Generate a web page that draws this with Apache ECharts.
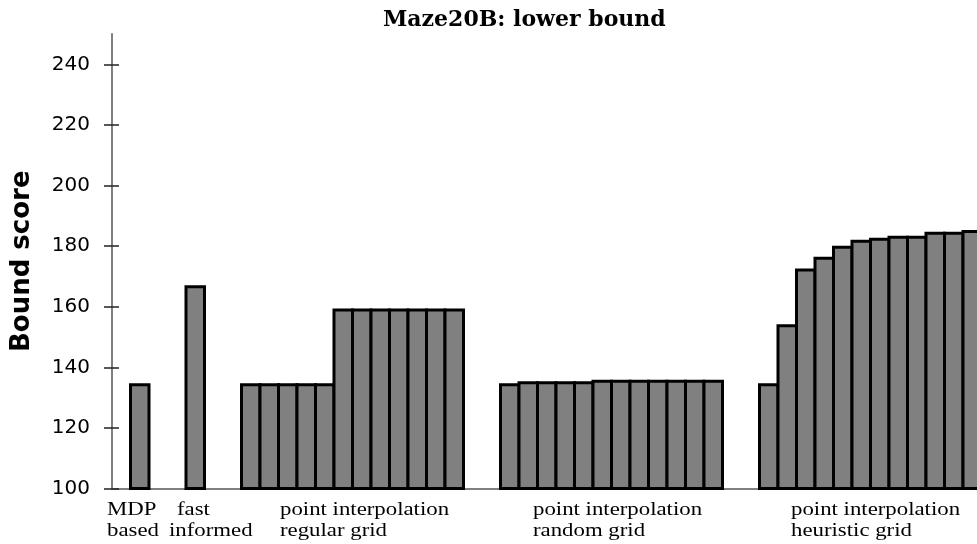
<!DOCTYPE html>
<html>
<head>
<meta charset="utf-8">
<script src="https://cdn.jsdelivr.net/npm/echarts@6/dist/echarts.min.js"></script>
<style>
html, body { margin: 0; padding: 0; background: #fff; }
#chart { width: 977px; height: 544px; }
</style>
</head>
<body>
<div id="chart"></div>
<script>
// bar heights, one array per group
const mdpBased = [134.2];
const fastInformed = [166.6];
const regularGrid = [134.2, 134.2, 134.2, 134.2, 134.2, 158.9, 158.9, 158.9, 158.9, 158.9, 158.9, 158.9];
const randomGrid = [134.2, 134.9, 134.9, 134.9, 134.9, 135.4, 135.4, 135.4, 135.4, 135.4, 135.4, 135.4];
const heuristicGrid = [134.2, 153.7, 172.1, 176.0, 179.6, 181.6, 182.3, 182.9, 182.9, 184.2, 184.2, 184.8];
// empty slots in front of each group
const groupGaps = [1, 2, 2, 2, 2];
const yTicks = [100, 120, 140, 160, 180, 200, 220, 240];
const groupLabels = [
    ['MDP', 'based'],
    ['fast', 'informed'],
    ['point interpolation', 'regular grid'],
    ['point interpolation', 'random grid'],
    ['point interpolation', 'heuristic grid']
];

const groups = [mdpBased, fastInformed, regularGrid, randomGrid, heuristicGrid];
const slots = [];
const barData = [];
groups.forEach((g, gi) => {
    for (let i = 0; i < groupGaps[gi]; i++) {
        slots.push('gap' + gi + '_' + i);
    }
    g.forEach((v, i) => {
        barData.push([slots.length, v]);
        slots.push('g' + gi + '_' + i);
    });
});

const chart = echarts.init(document.getElementById('chart'));

// x position of each label line (line1, line2)
const labelX = [[107, 107], [177, 169], [280, 280], [533, 533], [791, 791]];
const graphics = [];
groupLabels.forEach((lines, gi) => {
    lines.forEach((t, li) => {
        graphics.push({
            type: 'text',
            x: labelX[gi][li],
            y: 501 + li * 21,
            scaleX: 1.2,
            style: {
                text: t,
                font: '19px "Liberation Serif"',
                fill: '#000',
                textAlign: 'left',
                textVerticalAlign: 'top'
            }
        });
    });
});

const axisGray = '#808080';

// bars fill their whole slot and share the border with the neighbour
function renderBar(params, api) {
    const idx = api.value(0);
    const top = api.coord([idx, api.value(1)]);
    const base = api.coord([idx, 100]);
    const w = api.size([1, 0])[0];
    return {
        type: 'rect',
        shape: { x: top[0] - w / 2, y: top[1], width: w, height: base[1] - top[1] },
        style: { fill: '#808080', stroke: '#000', lineWidth: 3 }
    };
}

chart.setOption({
    animation: false,
    title: {
        text: 'Maze20B: lower bound',
        left: 378,
        top: 4,
        textStyle: {
            fontFamily: 'DejaVu Serif',
            fontWeight: 'bold',
            fontSize: 22,
            color: '#000'
        }
    },
    grid: {
        left: 112,
        right: -4.5,
        top: 34,
        bottom: 55.5,
        containLabel: false,
        outerBoundsMode: 'none'
    },
    xAxis: {
        type: 'category',
        data: slots,
        axisLine: { lineStyle: { color: axisGray, width: 2 } },
        axisTick: { show: false },
        axisLabel: { show: false }
    },
    yAxis: [
        {
            type: 'value',
            min: 100,
            max: 250,
            interval: 20,
            name: 'Bound score',
            nameLocation: 'middle',
            nameGap: 77,
            nameTextStyle: {
                fontFamily: 'DejaVu Sans',
                fontWeight: 'bold',
                fontSize: 26,
                color: '#000'
            },
            splitLine: { show: false },
            axisLine: { show: true, lineStyle: { color: axisGray, width: 2 } },
            axisTick: {
                show: true,
                length: 8,
                customValues: yTicks,
                lineStyle: { color: '#222', width: 1.5 }
            },
            axisLabel: {
                margin: 22,
                customValues: yTicks,
                fontFamily: 'DejaVu Sans',
                fontSize: 20,
                color: '#000'
            }
        },
        {
            // inner half of the ticks that cross the axis
            type: 'value',
            min: 100,
            max: 250,
            interval: 20,
            position: 'left',
            splitLine: { show: false },
            axisLine: { show: false },
            axisLabel: { show: false },
            axisTick: {
                show: true,
                inside: true,
                length: 7,
                customValues: yTicks,
                lineStyle: { color: '#222', width: 1.5 }
            }
        }
    ],
    series: [
        {
            type: 'custom',
            renderItem: renderBar,
            encode: { x: 0, y: 1 },
            data: barData
        }
    ],
    graphic: graphics
});
</script>
</body>
</html>
